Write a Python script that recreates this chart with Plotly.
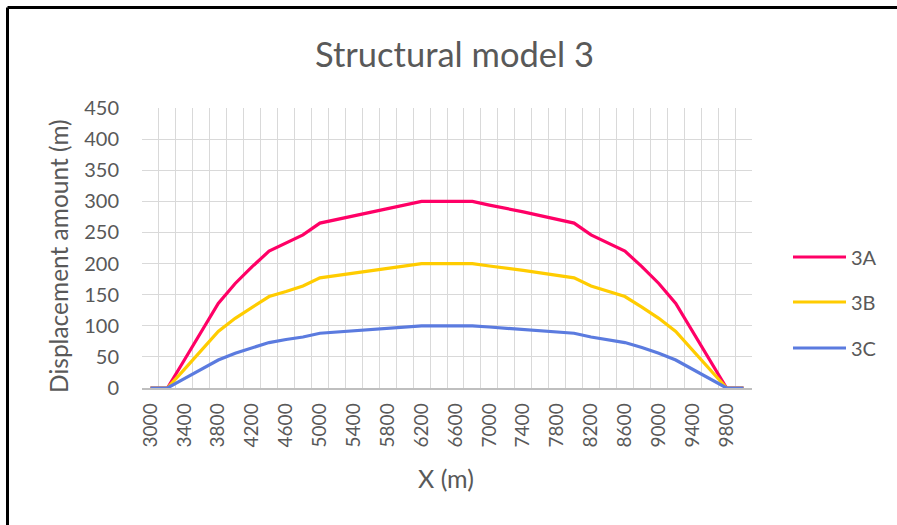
import plotly.graph_objects as go

x_vals = list(range(3000, 10001, 200))
series_3A = [0, 0, 45, 91, 136, 168, 195, 220, 233, 246, 265, 271, 277, 283, 289, 294,
             300, 300, 300, 300, 294, 289, 283, 277, 271, 265, 246, 233, 220, 195, 168, 136, 91, 45, 0, 0]
series_3B = [0, 0, 30, 61, 91, 112, 130, 147, 155, 164, 177, 181, 185, 189, 193, 196,
             200, 200, 200, 200, 196, 193, 189, 185, 181, 177, 164, 155, 147, 130, 112, 91, 61, 30, 0, 0]
series_3C = [0, 0, 15, 30, 45, 56, 65, 73, 78, 82, 88, 90, 92, 94, 96, 98,
             100, 100, 100, 100, 98, 96, 94, 92, 90, 88, 82, 78, 73, 65, 56, 45, 30, 15, 0, 0]
x_tick_labels = list(range(3000, 9801, 400))
names = ["3A", "3B", "3C"]
colors = ["#FF0066", "#FFCC00", "#5B7BDF"]

FONT = "Lato"
GREY = "#595959"

fig = go.Figure()
for name, ys, col in zip(names, [series_3A, series_3B, series_3C], colors):
    fig.add_trace(go.Scatter(x=x_vals, y=ys, mode="lines", name=name,
                             line=dict(color=col, width=3.2), showlegend=False))

W, H = 897, 525
L, R, T, B = 142, 752, 108, 388

def px(xp):
    return (xp - L) / (R - L)

def py(yp):
    return (B - yp) / (B - T)

annotations = [
    dict(text="Structural model 3", x=px(455), y=py(53), xref="paper", yref="paper",
         showarrow=False, font=dict(size=34.5, color=GREY, family=FONT),
         xanchor="center", yanchor="middle"),
    dict(text="Displacement amount (m)", x=px(58), y=py(256), xref="paper", yref="paper",
         showarrow=False, textangle=-90, font=dict(size=24.5, color=GREY, family=FONT),
         xanchor="center", yanchor="middle"),
    dict(text="X (m)", x=px(446), y=py(478), xref="paper", yref="paper",
         showarrow=False, font=dict(size=25, color=GREY, family=FONT),
         xanchor="center", yanchor="middle"),
]

shapes = [
    dict(type="rect", xref="paper", yref="paper", x0=px(880), x1=px(900), y0=py(530), y1=py(10),
         line=dict(width=0), fillcolor="white", layer="above"),
    dict(type="line", xref="paper", yref="paper", x0=px(7.5), x1=px(897), y0=py(7.5), y1=py(7.5),
         line=dict(color="black", width=3), layer="above"),
    dict(type="line", xref="paper", yref="paper", x0=px(7.5), x1=px(7.5), y0=py(7.5), y1=py(525),
         line=dict(color="black", width=3), layer="above"),
]

# manual legend
legend_y = [257, 302, 348]
for name, col, ly in zip(names, colors, legend_y):
    shapes.append(dict(type="line", xref="paper", yref="paper", x0=px(793), x1=px(846),
                       y0=py(ly), y1=py(ly), line=dict(color=col, width=3.2)))
    annotations.append(dict(text=name, x=px(849), y=py(ly), xref="paper", yref="paper",
                            showarrow=False, xanchor="left", yanchor="middle",
                            font=dict(size=20, color=GREY, family=FONT)))

fig.update_layout(
    width=W, height=H,
    margin=dict(l=L, r=W - R, t=T, b=H - B),
    paper_bgcolor="white", plot_bgcolor="white",
    font=dict(family=FONT, color=GREY, size=20),
    showlegend=False,
    xaxis=dict(range=[2900, 10100], tickmode="array", tickvals=x_tick_labels,
               ticktext=[str(v) for v in x_tick_labels], tickangle=-90,
               showgrid=False, zeroline=False, showline=True, linecolor="#BFBFBF", linewidth=1.5,
               ticks="outside", ticklen=6, tickcolor="rgba(0,0,0,0)",
               tickfont=dict(size=19, color=GREY),
               minor=dict(tick0=2900, dtick=200, showgrid=True, gridcolor="#D9D9D9", gridwidth=1)),
    yaxis=dict(range=[0, 450], dtick=50, showgrid=True, gridcolor="#D9D9D9", gridwidth=1,
               zeroline=False, showline=False, ticks="outside", ticklen=18,
               tickcolor="rgba(0,0,0,0)", tickfont=dict(size=20, color=GREY)),
    annotations=annotations,
    shapes=shapes,
)

fig.write_html("out.html")
